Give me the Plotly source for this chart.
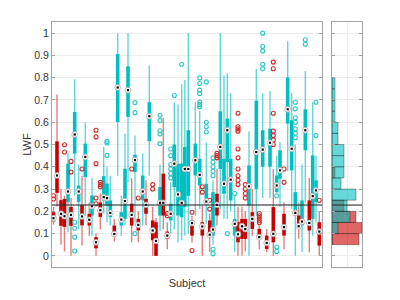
import plotly.graph_objects as go

# ---------------- data ----------------
# subject positions along the (unlabelled) Subject axis
red_pos = [1.5, 5, 9, 12.5, 19, 30, 37.3, 44, 48.3, 62.3, 79.7, 86.3, 94, 100.7, 104, 111.3,
           115.3, 140, 150.3, 157.7, 165, 186, 190, 193.3, 200.3, 207.3, 214.7, 221.3, 232,
           246.7, 257.3, 267.3]
red_lo = [0.14, 0.22, 0.05, 0.02, 0.0, 0.047, 0.09, 0.0, 0.12, 0.065, 0.061, 0.061, 0.136, 0.0,
          0.0, 0.12, 0.03, 0.06, 0.0, 0.017, 0.136, 0.0, 0.0, 0.02, 0.09, 0.03, 0.016, 0.0,
          0.03, 0.077, 0.016, 0.0]
red_q1 = [0.155, 0.283, 0.135, 0.13, 0.135, 0.137, 0.136, 0.034, 0.175, 0.091, 0.136, 0.114,
          0.189, 0.07, 0.0, 0.181, 0.076, 0.091, 0.091, 0.09, 0.181, 0.061, 0.076, 0.076,
          0.121, 0.076, 0.031, 0.061, 0.091, 0.121, 0.114, 0.046]
red_med = [0.169, 0.361, 0.189, 0.178, 0.184, 0.177, 0.162, 0.061, 0.205, 0.098, 0.184, 0.139,
           0.229, 0.114, 0.067, 0.238, 0.091, 0.147, 0.132, 0.095, 0.229, 0.097, 0.133, 0.12,
           0.166, 0.084, 0.058, 0.099, 0.129, 0.133, 0.148, 0.109]
red_q3 = [0.196, 0.514, 0.25, 0.256, 0.22, 0.229, 0.189, 0.084, 0.24, 0.136, 0.234, 0.166,
          0.256, 0.159, 0.151, 0.369, 0.109, 0.159, 0.151, 0.159, 0.279, 0.151, 0.166, 0.166,
          0.196, 0.121, 0.091, 0.219, 0.189, 0.181, 0.249, 0.151]
red_hi = [0.22, 0.724, 0.30, 0.27, 0.26, 0.36, 0.24, 0.10, 0.28, 0.165, 0.348, 0.2, 0.34, 0.22,
          0.17, 0.62, 0.15, 0.18, 0.226, 0.19, 0.39, 0.22, 0.22, 0.2, 0.30, 0.14, 0.121, 0.39,
          0.24, 0.24, 0.35, 0.2]
red_out = [[0.255, 0.27], [], [], [0.466, 0.499], [0.376, 0.424], [0.39], [],
           [0.234, 0.26, 0.414, 0.534, 0.564], [0.31, 0.32, 0.33], [], [0.39], [0.26], [],
           [0.30, 0.32], [], [], [0.18, 0.19], [0.024, 0.196], [0.286, 0.31], [0.21, 0.25],
           [0.44, 0.45, 0.46], [0.32, 0.34, 0.36, 0.39, 0.44, 0.48, 0.56, 0.57, 0.58, 0.64], [],
           [0.26, 0.28, 0.30, 0.32], [], [0.15, 0.16, 0.17, 0.18, 0.19], [],
           [0.50, 0.52, 0.54, 0.56, 0.64, 0.84, 0.87], [0.33, 0.39], [], [], [0.25]]

cyan_pos = [16, 22.7, 26.7, 33.3, 40, 51.7, 55, 58.3, 65.7, 69.3, 73, 76, 83, 90.7, 97.3, 108,
            118.7, 122.3, 126, 129.7, 132.8, 136.3, 143.3, 147.7, 154.3, 161, 168.3, 172,
            175.3, 178.7, 182.7, 197, 204.3, 210.7, 218, 224.7, 228, 235.7, 239.7, 243.3, 250,
            253.3, 260.7, 264]
cyan_lo = [0.106, 0.27, 0.12, 0.18, 0.09, 0.19, 0.15, 0.136, 0.36, 0.09, 0.136, 0.33, 0.15,
           0.136, 0.36, 0.11, 0.10, 0.12, 0.06, 0.07, 0.09, 0.10, 0.18, 0.21, 0.144, 0.05, 0.21,
           0.166, 0.166, 0.2, 0.017, 0.0, 0.18, 0.26, 0.26, 0.28, 0.22, 0.38, 0.21, 0.0, 0.017,
           0.24, 0.09, 0.15]
cyan_q1 = [0.241, 0.459, 0.241, 0.354, 0.181, 0.249, 0.226, 0.174, 0.601, 0.136, 0.166, 0.624,
           0.376, 0.249, 0.515, 0.181, 0.159, 0.309, 0.181, 0.174, 0.219, 0.27, 0.361, 0.316,
           0.234, 0.09, 0.39, 0.279, 0.421, 0.249, 0.091, 0.226, 0.30, 0.40, 0.40, 0.286,
           0.346, 0.594, 0.384, 0.181, 0.136, 0.474, 0.166, 0.241]
cyan_med = [0.289, 0.545, 0.289, 0.444, 0.223, 0.264, 0.259, 0.193, 0.756, 0.163, 0.246, 0.744,
            0.43, 0.289, 0.627, 0.238, 0.189, 0.414, 0.276, 0.238, 0.39, 0.39, 0.429, 0.364,
            0.244, 0.118, 0.489, 0.324, 0.564, 0.342, 0.144, 0.312, 0.466, 0.477, 0.508, 0.316,
            0.384, 0.658, 0.481, 0.193, 0.154, 0.564, 0.268, 0.294]
cyan_q3 = [0.414, 0.646, 0.316, 0.504, 0.271, 0.358, 0.324, 0.249, 0.906, 0.196, 0.391, 0.851,
           0.454, 0.361, 0.69, 0.309, 0.234, 0.50, 0.414, 0.414, 0.489, 0.564, 0.504, 0.436,
           0.324, 0.286, 0.649, 0.436, 0.616, 0.436, 0.166, 0.406, 0.697, 0.564, 0.571, 0.361,
           0.474, 0.801, 0.609, 0.286, 0.249, 0.658, 0.451, 0.339]
cyan_hi = [0.46, 0.793, 0.41, 0.60, 0.35, 0.49, 0.40, 0.36, 1.0, 0.27, 0.549, 1.0, 0.54, 0.46,
           0.856, 0.41, 0.33, 0.69, 0.68, 0.77, 0.79, 1.0, 0.69, 0.65, 0.51, 0.34, 1.0, 0.81,
           0.82, 0.73, 0.27, 0.56, 0.84, 0.73, 0.74, 0.45, 0.51, 0.964, 0.73, 0.50, 0.41, 0.83,
           0.69, 0.45]
cyan_out = [[], [0.022, 0.084, 0.124, 0.151], [], [], [], [], [0.451, 0.507, 0.514], [], [], [],
            [], [], [0.10, 0.643, 0.688], [], [], [0.504, 0.547, 0.562, 0.607, 0.631],
            [0.35, 0.37, 0.39, 0.41, 0.45, 0.48], [0.72], [], [0.86], [], [], [],
            [0.669, 0.679, 0.691, 0.729, 0.744, 0.774, 0.799], [0.556, 0.58, 0.60, 0.781],
            [0.01, 0.03, 0.36, 0.38, 0.40, 0.42, 0.44], [], [], [0.10], [], [0.28], [], [],
            [0.84, 0.86, 0.92, 0.94, 1.0], [], [0.02, 0.04, 0.27], [], [], [],
            [0.53, 0.55, 0.57, 0.60, 0.62, 0.66, 0.69], [], [0.95, 0.97], [], [0.54, 0.69]]

# histogram of subject medians (bin centres, bin width 0.05)
hist_centers = [0.075, 0.125, 0.175, 0.225, 0.275, 0.325, 0.375, 0.425, 0.475, 0.525, 0.575,
                0.625, 0.675, 0.725, 0.775]
red_counts = [9, 10, 8, 4, 0, 0, 1, 0, 0, 0, 0, 0, 0, 0, 0]
cyan_counts = [0, 2, 6, 5, 8, 3, 4, 4, 4, 2, 2, 1, 1, 1, 1]

threshold = 0.228
y_ticks = [0, 0.1, 0.2, 0.3, 0.4, 0.5, 0.6, 0.7, 0.8, 0.9, 1]
y_labels = ["0", "0.1", "0.2", "0.3", "0.4", "0.5", "0.6", "0.7", "0.8", "0.9", "1"]

RED = "#c80000"
RED_L = "rgba(204,0,0,0.5)"
CY = "#00bfc0"
CY_L = "rgba(0,192,192,0.62)"


def segs(pos, a, b):
    xs, ys = [], []
    for p, u, v in zip(pos, a, b):
        xs += [p, p, None]
        ys += [u, v, None]
    return xs, ys


fig = go.Figure()

# whiskers
for pos, lo, hi, col in [(cyan_pos, cyan_lo, cyan_hi, CY_L), (red_pos, red_lo, red_hi, RED_L)]:
    xs, ys = segs(pos, lo, hi)
    fig.add_trace(go.Scatter(x=xs, y=ys, mode="lines", line=dict(color=col, width=1.4),
                             hoverinfo="skip"))
# boxes
for pos, q1, q3, col in [(cyan_pos, cyan_q1, cyan_q3, CY), (red_pos, red_q1, red_q3, RED)]:
    xs, ys = segs(pos, q1, q3)
    fig.add_trace(go.Scatter(x=xs, y=ys, mode="lines", line=dict(color=col, width=3.6),
                             hoverinfo="skip"))
# outliers
for pos, outs, col in [(cyan_pos, cyan_out, "#2cc8c8"), (red_pos, red_out, "#d42a2a")]:
    ox, oy = [], []
    for p, o in zip(pos, outs):
        ox += [p] * len(o)
        oy += o
    fig.add_trace(go.Scatter(x=ox, y=oy, mode="markers",
                             marker=dict(symbol="circle-open", size=4, color=col,
                                         line=dict(width=1.1, color=col))))
# medians
mx = cyan_pos + red_pos
my = cyan_med + red_med
fig.add_trace(go.Scatter(x=mx, y=my, mode="markers",
                         marker=dict(symbol="circle", size=5.8, color="white",
                                     line=dict(color="#a0a0a0", width=0.7))))
fig.add_trace(go.Scatter(x=mx, y=my, mode="markers",
                         marker=dict(symbol="square", size=2.2, color="black", line=dict(width=0))))

# marginal histogram
fig.add_trace(go.Bar(y=hist_centers, x=red_counts, orientation="h", width=0.05,
                     xaxis="x2", yaxis="y2",
                     marker=dict(color="rgba(204,0,0,0.6)",
                                 line=dict(color="rgba(0,0,0,0.45)", width=0.7))))
fig.add_trace(go.Bar(y=hist_centers, x=cyan_counts, orientation="h", width=0.05,
                     xaxis="x2", yaxis="y2",
                     marker=dict(color="rgba(0,190,190,0.6)",
                                 line=dict(color="rgba(0,0,0,0.45)", width=0.7))))

frame = "#a3a3a3"
grid = "#ececec"
fig.update_layout(
    width=400, height=300, showlegend=False, barmode="overlay",
    margin=dict(l=0, r=0, t=0, b=0),
    paper_bgcolor="white", plot_bgcolor="white",
    font=dict(family="Liberation Sans, Arial, sans-serif", size=10.5, color="#333333"),
    xaxis=dict(domain=[0.13, 0.805], range=[0, 270], showgrid=False, zeroline=False,
               showticklabels=False, ticks="", showline=True, linecolor=frame, mirror=True,
               title=dict(text="Subject", standoff=12, font=dict(size=11))),
    yaxis=dict(domain=[0.11, 0.9267], range=[-0.05, 1.05], tickvals=y_ticks,
               ticktext=y_labels, ticks="inside", ticklen=3, tickcolor=frame,
               showline=True, linecolor=frame, mirror="allticks", showgrid=True,
               gridcolor=grid, zeroline=False,
               title=dict(text="LWF", standoff=0, font=dict(size=11))),
    xaxis2=dict(domain=[0.83, 0.905], range=[0, 10], anchor="y2", tickvals=[5],
                showticklabels=False, ticks="", showgrid=True, gridcolor=grid,
                zeroline=False, showline=True, linecolor=frame, mirror=True),
    yaxis2=dict(domain=[0.11, 0.9267], range=[-0.05, 1.05], anchor="x2", tickvals=y_ticks,
                showticklabels=False, ticks="inside", ticklen=3, tickcolor=frame,
                showline=True, linecolor=frame, mirror="allticks", showgrid=True,
                gridcolor=grid, zeroline=False),
    shapes=[
        dict(type="line", xref="x domain", yref="y", x0=0, x1=1, y0=threshold, y1=threshold,
             line=dict(color="rgba(50,50,50,0.75)", width=1.5)),
        dict(type="line", xref="x2 domain", yref="y2", x0=0, x1=1, y0=threshold, y1=threshold,
             line=dict(color="rgba(50,50,50,0.75)", width=1.5)),
    ],
)

fig.write_html("out.html", config={"displayModeBar": False},
               post_script="document.body.style.margin='0';")
